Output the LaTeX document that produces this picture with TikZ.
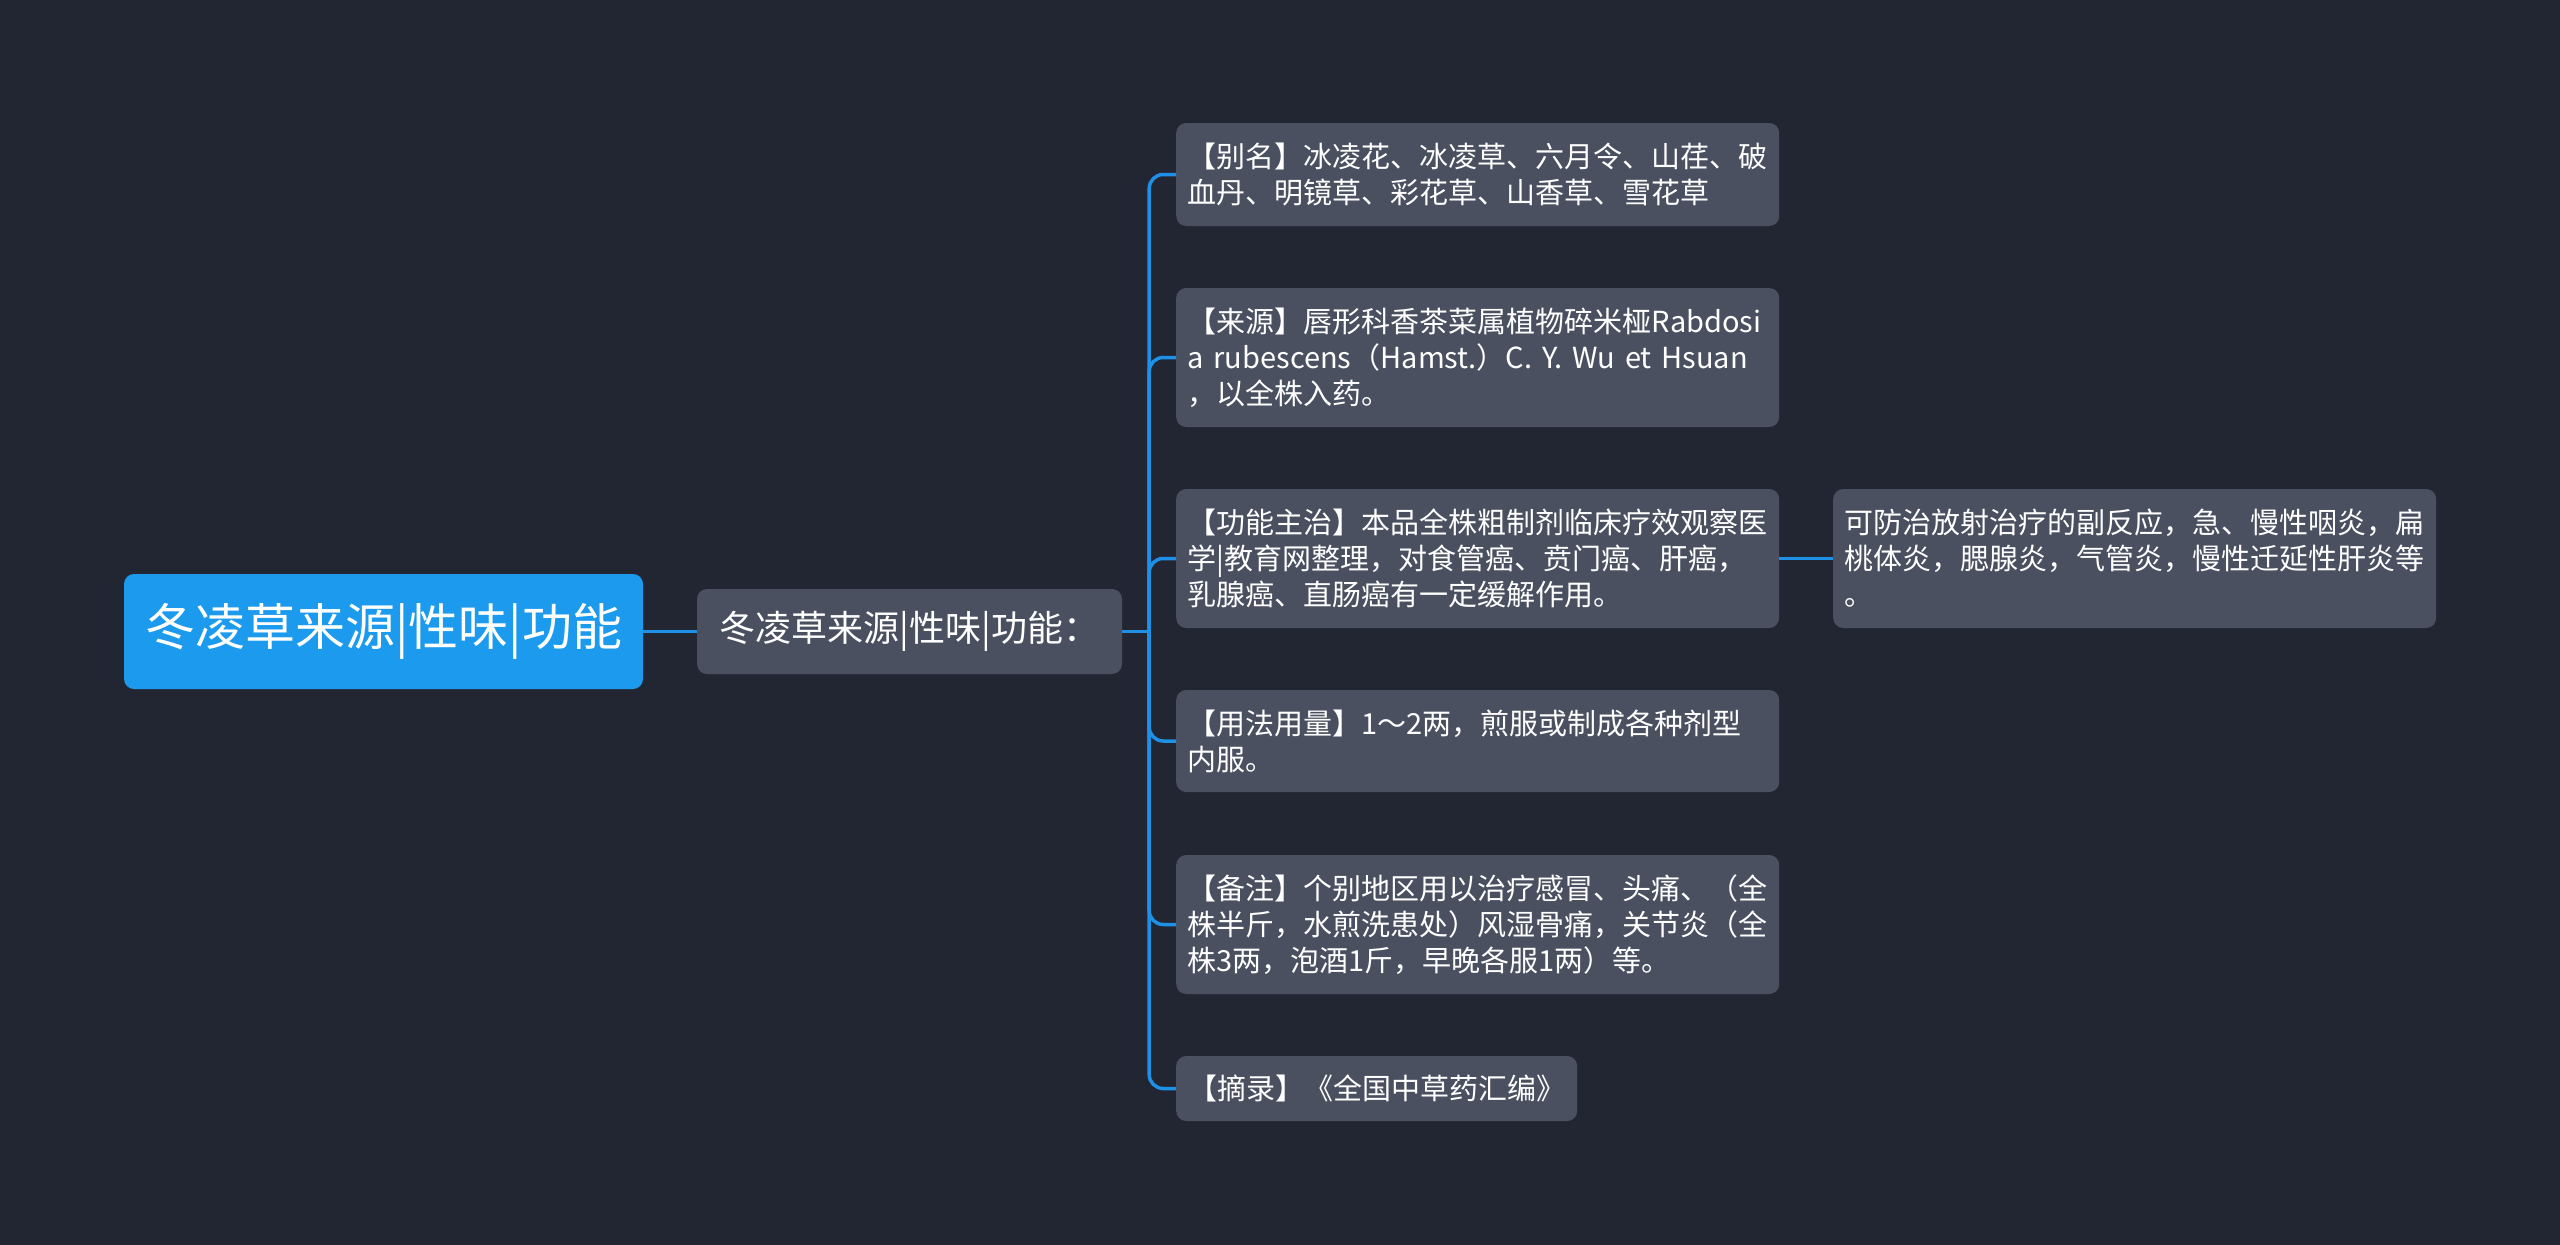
\documentclass[tikz,border=0pt]{standalone}
\usepackage{fontspec}
\newfontfamily\cjk{Noto Sans CJK SC}
\usepackage{tikz}
\usetikzlibrary{positioning,calc}
\usepackage{xcolor}
\definecolor{bgcol}{HTML}{222632}
\definecolor{rootcol}{HTML}{1B9AEE}
\definecolor{boxcol}{HTML}{4A5060}
\definecolor{linecol}{HTML}{1E90E6}

\begin{document}
\begin{tikzpicture}[
    x=1pt, y=-1pt,
    rootbox/.style={rectangle, rounded corners=10pt, fill=rootcol, text=white, minimum width=519pt, minimum height=115pt, font=\cjk\fontsize{50}{58}\selectfont},
    subbox/.style={rectangle, rounded corners=10pt, fill=boxcol, text=white, minimum width=425pt, minimum height=85pt, font=\cjk\fontsize{36}{44}\selectfont},
    leaf/.style={rectangle, rounded corners=10pt, fill=boxcol, text=white, anchor=west, inner xsep=11.5pt, inner ysep=0pt, text width=580pt, align=left, font=\cjk\fontsize{29}{36}\selectfont},
    shortleaf/.style={rectangle, rounded corners=10pt, fill=boxcol, text=white, anchor=west, inner xsep=12pt, inner ysep=0pt, minimum height=65pt, font=\cjk\fontsize{29}{36}\selectfont},
    link/.style={draw=linecol, line width=3.5pt},
    branch/.style={draw=linecol, line width=3.5pt, rounded corners=14pt}
]
    % Background and page size
    \fill[bgcol] (0,0) rectangle (2560,1245);
    \useasboundingbox (0,0) rectangle (2560,1245);

    % Root and summary
    \node[rootbox] (root) at (383.5,631.5) {冬凌草来源|性味|功能};
    \node[subbox] (summary) at (909.5,631.5) {冬凌草来源|性味|功能：};

    % Detail items
    \node[leaf, minimum height=103pt] (alias) at (1176,174.5) {【别名】冰凌花、冰凌草、六月令、山荏、破\\血丹、明镜草、彩花草、山香草、雪花草};
    \node[leaf, minimum height=139pt] (origin) at (1176,357.5) {【来源】唇形科香茶菜属植物碎米桠Rabdosi\\a rubescens（Hamst.）C. Y. Wu et Hsuan\\，以全株入药。};
    \node[leaf, minimum height=139pt] (usage) at (1176,558.5) {【功能主治】本品全株粗制剂临床疗效观察医\\学|教育网整理，对食管癌、贲门癌、肝癌，\\乳腺癌、直肠癌有一定缓解作用。};
    \node[leaf, minimum height=102pt] (dose) at (1176,741) {【用法用量】1～2两，煎服或制成各种剂型\\内服。};
    \node[leaf, minimum height=139pt] (note) at (1176,924.5) {【备注】个别地区用以治疗感冒、头痛、（全\\株半斤，水煎洗患处）风湿骨痛，关节炎（全\\株3两，泡酒1斤，早晚各服1两）等。};
    \node[shortleaf] (source) at (1176,1088.5) {【摘录】《全国中草药汇编》};

    % Extra detail
    \node[leaf, minimum height=139pt] (extra) at (1833,558.5) {可防治放射治疗的副反应，急、慢性咽炎，扁\\桃体炎，腮腺炎，气管炎，慢性迁延性肝炎等\\。};

    % Connectors
    \coordinate (hub) at ([xshift=27pt]summary.east);
    \draw[link] (root) -- (summary);
    \draw[link] (summary) -- (hub);
    \foreach \item in {alias,origin,usage,dose,note,source}
        \draw[branch] (hub) |- (\item.west);
    \draw[link] (usage) -- (extra);
\end{tikzpicture}
\end{document}
